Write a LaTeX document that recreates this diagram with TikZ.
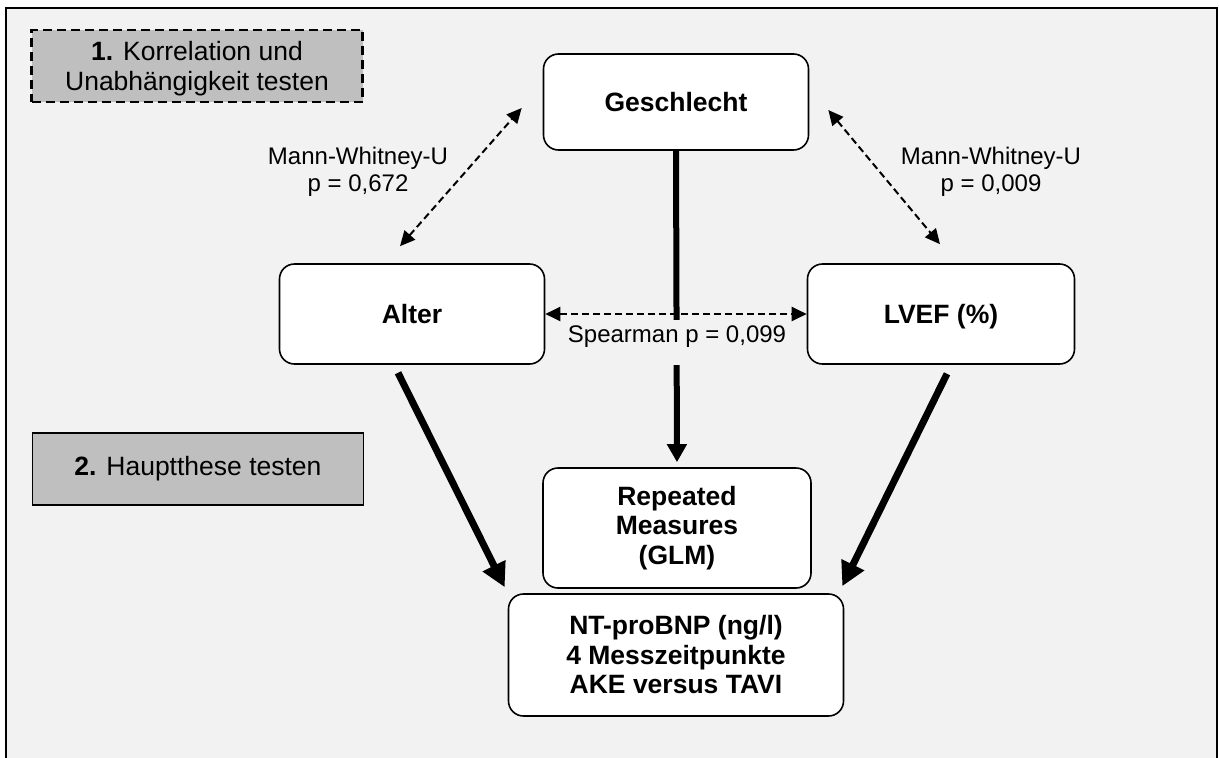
\documentclass[tikz,border=0pt]{standalone}
\usepackage{fontspec}
\setmainfont{Liberation Sans}
\usetikzlibrary{arrows.meta}
\definecolor{panelgray}{HTML}{F2F2F2}
\definecolor{stagegray}{HTML}{BFBFBF}

\begin{document}
\begin{tikzpicture}[x=1pt,y=-1pt]
\tikzset{factor/.style = {shape=rectangle,rounded corners=15pt,draw,line width=1.6pt,fill=white,minimum width=265pt,minimum height=100pt,align=center,inner sep=0pt,font=\fontsize{26.5}{29.5}\selectfont\bfseries}}
\tikzset{stage/.style = {shape=rectangle,draw,line width=1.6pt,fill=stagegray,minimum width=331pt,minimum height=72pt,align=center,inner sep=0pt,font=\fontsize{26.5}{29.5}\selectfont}}
\tikzset{testlabel/.style = {align=center,inner sep=0pt,font=\fontsize{24}{27}\selectfont}}
\tikzset{test/.style = {{Triangle[length=15pt,width=14pt]}-{Triangle[length=15pt,width=14pt]},line width=2pt,dash pattern=on 7pt off 4pt}}
\tikzset{effect/.style = {-{Triangle[length=24pt,width=24pt]},line width=7pt}}

\useasboundingbox (0,0) rectangle (1219,758);
\clip (0,0) rectangle (1219,758);
\draw[line width=2.5pt,fill=panelgray] (6,8) rectangle (1217,790);

% steps
\node[stage,line width=2.2pt,dash pattern=on 9pt off 5pt,text depth=0pt] (korr) at (197,66) {\textbf{1.} Korrelation und\\Unabh\"angigkeit testen};
\node[stage] (haupt) at (198,469) {\textbf{2.} Hauptthese testen};

% vertices
\node[factor,minimum height=96pt] (geschl) at (676,102) {Geschlecht};
\node[factor] (alter) at (412,314) {Alter};
\node[factor,minimum width=267pt,text depth=0pt] (lvef) at (941,314) {LVEF (\%)};
\node[factor,minimum width=268pt,minimum height=120pt] (glm) at (677,528) {Repeated\\Measures\\(GLM)};
\node[factor,minimum width=335pt,minimum height=122pt] (ntpro) at (676,655) {NT-proBNP (ng/l)\\4 Messzeitpunkte\\AKE versus TAVI};

\node[testlabel] (mwleft) at (358,172) {Mann-Whitney-U\\p = 0,672};
\node[testlabel] (mwright) at (991,172) {Mann-Whitney-U\\p = 0,009};

%edges
\draw[test] ([xshift=-12pt,yshift=17pt]alter.north) -- ([xshift=-21pt,yshift=-6pt]geschl.west);
\draw[test] ([xshift=19pt,yshift=-8pt]geschl.east) -- ([xshift=-1pt,yshift=19pt]lvef.north);
\draw[test] (alter.east) -- (lvef.west);

\draw[line width=6pt,-{Triangle[length=18pt,width=19pt]},shorten >=5pt] (geschl.south) -- (glm.north);
\draw[effect] ([xshift=-14pt,yshift=-8pt]alter.south) -- ([xshift=-3pt,yshift=6pt]ntpro.north west);
\draw[effect] ([xshift=6pt,yshift=-9pt]lvef.south) -- ([xshift=-2pt,yshift=7pt]ntpro.north east);

\node[testlabel,fill=panelgray,anchor=base,text height=22pt,text depth=23pt,inner xsep=3pt] (spear) at (677,342) {Spearman p = 0,099};

\end{tikzpicture}
\end{document}
